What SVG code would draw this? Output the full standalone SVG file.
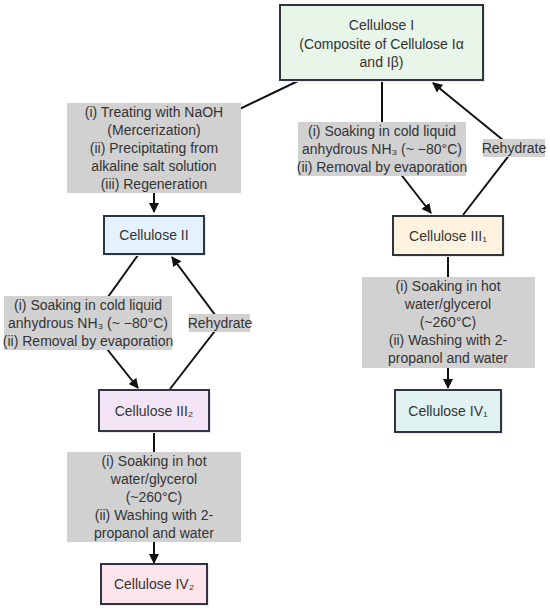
<svg xmlns="http://www.w3.org/2000/svg" width="550" height="612" viewBox="0 0 550 612">
<defs>
<marker id="ah" viewBox="0 0 10 10" refX="9" refY="5" markerWidth="10" markerHeight="10" markerUnits="userSpaceOnUse" orient="auto">
<path d="M0,0 L10,5 L0,10 z" fill="#111"/>
</marker>
</defs>
<style>
text{font-family:"Liberation Sans",Arial,sans-serif;font-size:14px;fill:#333;text-anchor:middle;dominant-baseline:central}
.node rect.b{stroke:#2e3440;stroke-width:2}
.shadow{fill:#e9e9ee}
.edge{fill:none;stroke:#111;stroke-width:2}
.lbl{fill:#d1d1d1}
</style>
<rect width="550" height="612" fill="#fff"/>
<g id="connectors">
<path class="edge" d="M298,81 L154,150 L154,212" marker-end="url(#ah)"/>
<path class="edge" d="M382,80 L382,150 L431,213" marker-end="url(#ah)"/>
<path class="edge" d="M463,215 L514,149 L433,83" marker-end="url(#ah)"/>
<path class="edge" d="M448,255 L448,388" marker-end="url(#ah)"/>
<path class="edge" d="M138,255 L88,325 L138,388" marker-end="url(#ah)"/>
<path class="edge" d="M170,389 L221,323 L172,257" marker-end="url(#ah)"/>
<path class="edge" d="M154,431 L154,563" marker-end="url(#ah)"/>
<g id="lbl-merc">
<rect class="lbl" x="67" y="103" width="174" height="90"/>
<text x="154" y="112">(i) Treating with NaOH</text>
<text x="154" y="130">(Mercerization)</text>
<text x="154" y="148">(ii) Precipitating from</text>
<text x="154" y="166">alkaline salt solution</text>
<text x="154" y="184">(iii) Regeneration</text>
</g>
<g id="lbl-nh3-1">
<rect class="lbl" x="298" y="122" width="168" height="54"/>
<text x="382" y="131">(i) Soaking in cold liquid</text>
<text x="382" y="149">anhydrous NH₃ (~ −80°C)</text>
<text x="382" y="167">(ii) Removal by evaporation</text>
</g>
<g id="lbl-rehy-1">
<rect class="lbl" x="483" y="139" width="62" height="18"/>
<text x="514" y="148">Rehydrate</text>
</g>
<g id="lbl-hot-1">
<rect class="lbl" x="362" y="277" width="173" height="91"/>
<text x="448" y="286">(i) Soaking in hot</text>
<text x="448" y="304">water/glycerol</text>
<text x="448" y="322">(~260°C)</text>
<text x="448" y="340">(ii) Washing with 2-</text>
<text x="448" y="358">propanol and water</text>
</g>
<g id="lbl-nh3-2">
<rect class="lbl" x="4" y="296" width="168" height="54"/>
<text x="88" y="305">(i) Soaking in cold liquid</text>
<text x="88" y="323">anhydrous NH₃ (~ −80°C)</text>
<text x="88" y="341">(ii) Removal by evaporation</text>
</g>
<g id="lbl-rehy-2">
<rect class="lbl" x="189" y="314" width="61" height="18"/>
<text x="220" y="323">Rehydrate</text>
</g>
<g id="lbl-hot-2">
<rect class="lbl" x="67" y="452" width="174" height="90"/>
<text x="154" y="461">(i) Soaking in hot</text>
<text x="154" y="479">water/glycerol</text>
<text x="154" y="497">(~260°C)</text>
<text x="154" y="515">(ii) Washing with 2-</text>
<text x="154" y="533">propanol and water</text>
</g>
</g>
<g id="cellulose-i" class="node">
<rect class="shadow" x="282" y="7" width="203" height="75"/>
<rect class="b" x="280" y="5" width="203" height="75" fill="#e8f5e9"/>
<text x="381.5" y="25">Cellulose I</text>
<text x="381.5" y="44">(Composite of Cellulose Iα</text>
<text x="381.5" y="62">and Iβ)</text>
</g>
<g id="cellulose-ii" class="node">
<rect class="shadow" x="106" y="218" width="100" height="38"/>
<rect class="b" x="104" y="216" width="100" height="38" fill="#e3f2fd"/>
<text x="154" y="235">Cellulose II</text>
</g>
<g id="cellulose-iii1" class="node">
<rect class="shadow" x="395" y="218" width="110" height="39"/>
<rect class="b" x="393" y="216" width="110" height="39" fill="#fff3e0"/>
<text x="448" y="235.5">Cellulose III₁</text>
</g>
<g id="cellulose-iv1" class="node">
<rect class="shadow" x="397" y="392" width="106" height="42"/>
<rect class="b" x="395" y="390" width="106" height="42" fill="#e0f2f1"/>
<text x="448" y="411">Cellulose IV₁</text>
</g>
<g id="cellulose-iii2" class="node">
<rect class="shadow" x="101" y="392" width="110" height="41"/>
<rect class="b" x="99" y="390" width="110" height="41" fill="#f3e5f5"/>
<text x="154" y="410.5">Cellulose III₂</text>
</g>
<g id="cellulose-iv2" class="node">
<rect class="shadow" x="103" y="566" width="106" height="40"/>
<rect class="b" x="101" y="564" width="106" height="40" fill="#fce4ec"/>
<text x="154" y="584">Cellulose IV₂</text>
</g>
</svg>
